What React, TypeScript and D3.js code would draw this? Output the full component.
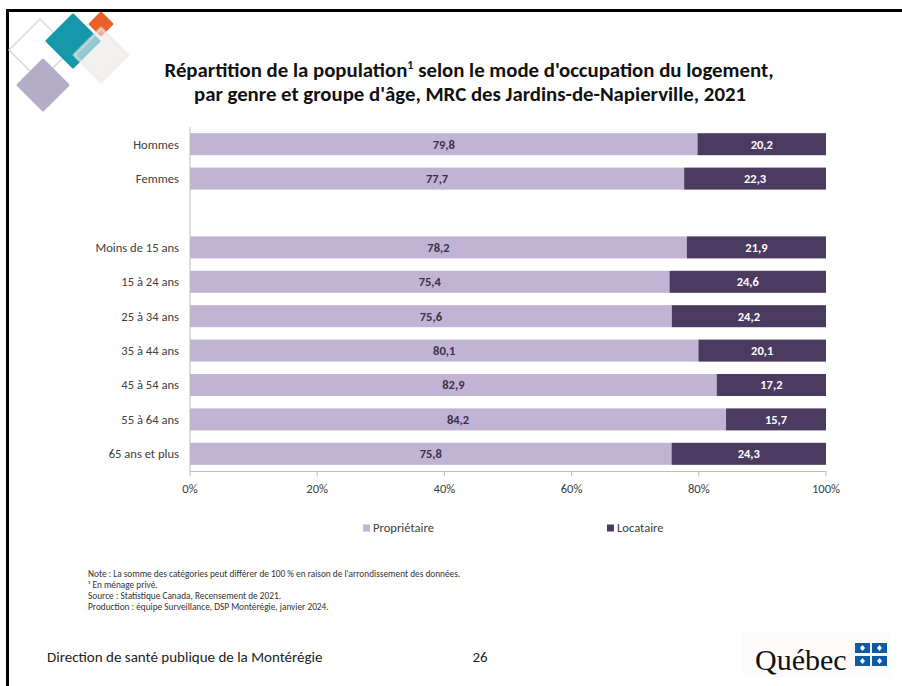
import React from "react";
import * as d3 from "d3";

const categories = [
  "Hommes",
  "Femmes",
  "__gap__",
  "Moins de 15 ans",
  "15 à 24 ans",
  "25 à 34 ans",
  "35 à 44 ans",
  "45 à 54 ans",
  "55 à 64 ans",
  "65 ans et plus",
];
const proprietaire = [79.8, 77.7, null, 78.2, 75.4, 75.6, 80.1, 82.9, 84.2, 75.8];
const locataire = [20.2, 22.3, null, 21.9, 24.6, 24.2, 20.1, 17.2, 15.7, 24.3];
const seriesNames = ["Propriétaire", "Locataire"];
const xTicks = [0, 20, 40, 60, 80, 100];
const notes = [
  "Note : La somme des catégories peut différer de 100 % en raison de l'arrondissement des données.",
  "¹ En ménage privé.",
  "Source : Statistique Canada, Recensement de 2021.",
  "Production : équipe Surveillance, DSP Montérégie, janvier 2024.",
];

const W = 902;
const H = 686;
const FONT = "Carlito, Lato, 'Open Sans', sans-serif";
const LIGHT = "#c0b3d3";
const DARK = "#4b3b60";
const TEXT = "#404040";

export default function App() {
  const x = d3.scaleLinear().domain([0, 1]).range([190, 826]);
  const y = d3
    .scaleBand<string>()
    .domain(categories)
    .range([127, 471])
    .paddingInner(0.36)
    .paddingOuter(0.18);

  const rows = categories
    .map((c, i) => ({ cat: c, p: proprietaire[i], l: locataire[i] }))
    .filter((r) => r.p != null) as { cat: string; p: number; l: number }[];

  const stack = d3
    .stack<{ cat: string; p: number; l: number }>()
    .keys(["p", "l"])
    .offset(d3.stackOffsetExpand);
  const stacked = stack(rows);
  const colors = [LIGHT, DARK];
  const labelColors = ["#3a3148", "#ffffff"];

  const diamond = (cx: number, cy: number, r: number) =>
    `M${cx},${cy - r}L${cx + r},${cy}L${cx},${cy + r}L${cx - r},${cy}Z`;

  const flagBlocks = [
    [855, 643],
    [872, 643],
    [855, 656],
    [872, 656],
  ];

  return (
    <svg
      width={W}
      height={H}
      style={{ position: "absolute", left: 0, top: 0, background: "#fff" }}
      fontFamily={FONT}
    >
      <rect x={0} y={0} width={W} height={H} fill="#fff" />
      {/* slide frame */}
      <rect x={7.5} y={10.5} width={W + 20} height={H + 20} fill="none" stroke="#000" strokeWidth={3} />

      {/* decorative diamonds */}
      <path d={diamond(40, 50, 31)} fill="none" stroke="#d5dcd2" strokeWidth={1.5} strokeLinejoin="round" />
      <path d={diamond(43, 85, 25)} fill="#b5aec9" strokeLinejoin="round" stroke="#b5aec9" strokeWidth={3} />
      <path d={diamond(73, 41, 26)} fill="#1598aa" stroke="#1598aa" strokeWidth={3} strokeLinejoin="round" />
      <path d={diamond(101, 24, 11)} fill="#e8612a" stroke="#e8612a" strokeWidth={2.5} strokeLinejoin="round" />
      <path d={diamond(101, 55, 27)} fill="#ebe8e6" fillOpacity={0.6} stroke="#ebe8e6" strokeOpacity={0.6} strokeWidth={3} strokeLinejoin="round" />

      {/* title */}
      <text x={469} y={77} textAnchor="middle" fontSize={20.8} fontWeight={700} fill="#111">
        Répartition de la population<tspan fontSize={12} dy={-8}>1</tspan>
        <tspan dy={8}> selon le mode d'occupation du logement,</tspan>
      </text>
      <text x={470} y={101} textAnchor="middle" fontSize={20.8} fontWeight={700} fill="#111">
        par genre et groupe d'âge, MRC des Jardins-de-Napierville, 2021
      </text>

      {/* bars */}
      {stacked.map((s, si) =>
        s.map((d) => {
          const cat = d.data.cat;
          const y0 = y(cat)!;
          const x0 = x(d[0]);
          const x1 = x(d[1]);
          const val = si === 0 ? d.data.p : d.data.l;
          return (
            <g key={`${si}-${cat}`}>
              <rect x={x0} y={y0} width={x1 - x0} height={y.bandwidth()} fill={colors[si]} />
              <text
                x={(x0 + x1) / 2}
                y={y0 + y.bandwidth() / 2}
                dy="0.35em"
                textAnchor="middle"
                fontSize={12.5}
                fontWeight={700}
                fill={labelColors[si]}
              >
                {d3.format(".1f")(val).replace(".", ",")}
              </text>
            </g>
          );
        })
      )}

      {/* category labels */}
      {rows.map((r) => (
        <text
          key={r.cat}
          x={179}
          y={y(r.cat)! + y.bandwidth() / 2}
          dy="0.35em"
          textAnchor="end"
          fontSize={12.6}
          fill={TEXT}
        >
          {r.cat}
        </text>
      ))}

      {/* axes */}
      <line x1={190} x2={190} y1={127} y2={471} stroke="#bfbfbf" strokeWidth={1} />
      <line x1={190} x2={826} y1={471.5} y2={471.5} stroke="#bfbfbf" strokeWidth={1} />
      {xTicks.map((t) => (
        <g key={t}>
          <line x1={x(t / 100)} x2={x(t / 100)} y1={471} y2={476} stroke="#bfbfbf" />
          <text x={x(t / 100)} y={489} dy="0.35em" textAnchor="middle" fontSize={12.6} fill={TEXT}>
            {t}%
          </text>
        </g>
      ))}

      {/* legend */}
      {seriesNames.map((n, i) => {
        const lx = i === 0 ? 363 : 607;
        return (
          <g key={n}>
            <rect x={lx} y={524.5} width={7} height={7} fill={colors[i]} />
            <text x={lx + 10} y={528} dy="0.35em" fontSize={12.6} fill={TEXT}>
              {n}
            </text>
          </g>
        );
      })}

      {/* notes */}
      {notes.map((n, i) => (
        <text key={i} x={88} y={577 + i * 11} fontSize={9.3} fill="#333">
          {n}
        </text>
      ))}

      {/* footer */}
      <text x={47} y={657} dy="0.35em" fontSize={15} fill="#222">
        Direction de santé publique de la Montérégie
      </text>
      <text x={480} y={657} dy="0.35em" textAnchor="middle" fontSize={15} fill="#222">
        26
      </text>

      {/* Québec logo */}
      <rect x={742} y={633} width={148} height={44} fill="#fdfcfb" />
      <text x={755} y={670} fontFamily="'Liberation Serif', 'DejaVu Serif', serif" fontSize={30} fill="#111">
        Québec
      </text>
      {flagBlocks.map(([bx, by], i) => (
        <g key={i}>
          <rect x={bx} y={by} width={15} height={10} fill="#0e5aa7" />
          <path
            d={`M${bx + 7.5},${by + 2}L${bx + 10},${by + 5}L${bx + 7.5},${by + 8}L${bx + 5},${by + 5}Z`}
            fill="#fff"
          />
        </g>
      ))}
    </svg>
  );
}
